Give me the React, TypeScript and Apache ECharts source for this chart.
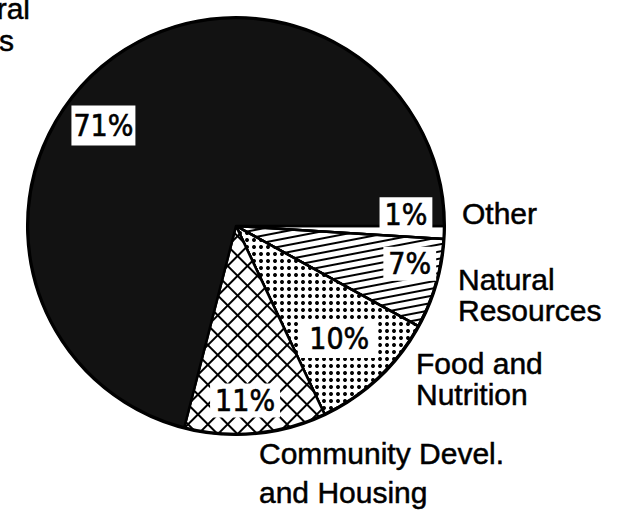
import React, { useEffect, useRef } from "react";
import * as echarts from "echarts";

// ---- data ----
const categories = ["Other", "Natural Resources", "Food and Nutrition", "Community Devel. and Housing", "…ral …s"];
const shares = [1, 7, 10, 11, 71];
const outerLabels = ["Other", "Natural\nResources", "Food and\nNutrition", "Community Devel.\nand Housing"];
const cutLabelFragments = ["ral", "s"];

// ---- styling ----
const CX = 236;
const CY = 226;
const R = 208;
const pctFont = '"Liberation Sans Narrow", "Arial Narrow", "DejaVu Sans Condensed", sans-serif';
const nameFont = '"Liberation Sans", Arial, Helvetica, sans-serif';

const sliceStyles: any[] = [
  { color: "#ffffff" },
  {
    color: "#ffffff",
    decal: { symbol: "rect", symbolSize: 1, dashArrayX: [1, 0], dashArrayY: [1.8, 5], rotation: -0.19, color: "#000" },
  },
  {
    color: "#ffffff",
    decal: { symbol: "circle", symbolSize: 1, dashArrayX: [3.6, 2.9], dashArrayY: [3.6, 2.9], rotation: 0, color: "#000" },
  },
  {
    color: "#000000",
    decal: { symbol: "rect", symbolSize: 1, dashArrayX: [12, 1.6], dashArrayY: [12, 1.6], rotation: Math.PI / 4, color: "#ffffff" },
  },
  { color: "#121212" },
];
const labelOffsets = [
  [63, -15],
  [71, 8],
  [30, 35],
  [-1, 68],
  [-67, -16],
];
const labelPads = [
  [3, 5, 1, 5],
  [3, 5, 1, 5],
  [5, 9, 3, 9],
  [3, 5, 1, 5],
  [6, 2, 4, 2],
];
const outerPos = [
  { x: 462, y: 198, lh: 31 },
  { x: 458, y: 264, lh: 31 },
  { x: 416, y: 348, lh: 31 },
  { x: 259, y: 434, lh: 39 },
];

export default function App() {
  const ref = useRef<HTMLDivElement>(null);
  useEffect(() => {
    if (!ref.current) return;
    const chart = echarts.init(ref.current, null, { renderer: "svg" });
    const data = categories.map((name, i) => ({
      name,
      value: shares[i],
      itemStyle: { ...sliceStyles[i], borderColor: "#000", borderWidth: 2.5 },
      label: { padding: labelPads[i] },
    }));
    const textStyle = (text: string, lh: number, align: string) => ({
      text,
      fontFamily: nameFont,
      fontSize: 30,
      lineHeight: lh,
      fill: "#000",
      stroke: "#000",
      lineWidth: 0.5,
      textAlign: align,
      textVerticalAlign: "top",
    });
    const graphics: any[] = outerLabels.map((t, i) => ({
      type: "text",
      x: outerPos[i].x,
      y: outerPos[i].y,
      style: textStyle(t, outerPos[i].lh, "left"),
    }));
    graphics.push({ type: "text", x: 30, y: -7, style: textStyle(cutLabelFragments[0], 31, "right") });
    graphics.push({ type: "text", x: 14, y: 25, style: textStyle(cutLabelFragments[1], 31, "right") });
    chart.setOption({
      animation: false,
      backgroundColor: "#ffffff",
      series: [
        {
          type: "pie",
          center: [CX, CY],
          radius: [0, R],
          startAngle: 0,
          clockwise: true,
          avoidLabelOverlap: false,
          silent: true,
          data,
          label: {
            show: true,
            position: "inside",
            formatter: "{c}%",
            fontFamily: pctFont,
            fontSize: 30,
            lineHeight: 30,
            color: "#000",
            textBorderColor: "#000",
            textBorderWidth: 0.6,
            backgroundColor: "#ffffff",
          },
          labelLine: { show: false },
          labelLayout: (p: any) => ({ dx: labelOffsets[p.dataIndex][0], dy: labelOffsets[p.dataIndex][1] }),
          z: 2,
        },
        {
          type: "pie",
          center: [CX, CY],
          radius: [0, R],
          silent: true,
          label: { show: false },
          labelLine: { show: false },
          data: [{ value: 1, name: "outline", itemStyle: { color: "rgba(0,0,0,0)", borderColor: "#000", borderWidth: 4 } }],
          z: 1,
        },
      ],
      graphic: graphics,
    });
    return () => chart.dispose();
  }, []);
  return <div ref={ref} style={{ position: "absolute", left: 0, top: 0, width: 622, height: 511 }} />;
}
